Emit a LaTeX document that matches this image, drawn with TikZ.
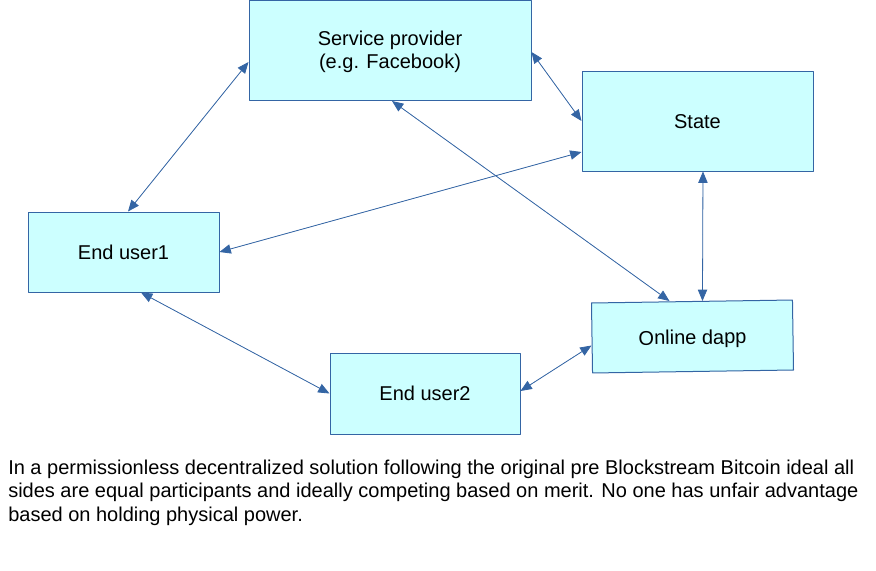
\documentclass[tikz,border=0pt]{standalone}
\usepackage{fontspec}
\setmainfont{Liberation Sans}
\usetikzlibrary{arrows.meta,calc}
\definecolor{boxfill}{HTML}{CCFFFF}
\definecolor{linkblue}{HTML}{3465A4}
\newcommand{\lowered}[2]{\raisebox{-#1}[\height][\depth]{#2}}
\begin{document}
\begin{tikzpicture}[x=0.75pt, y=-0.75pt, line join=round,
	party/.style={draw=linkblue, fill=boxfill, line width=0.75pt, inner sep=0pt, align=center, font=\fontsize{15}{17.25}\selectfont},
	link/.style={draw=linkblue, line width=0.6pt, {Triangle[length=8.5pt,width=7pt]}-{Triangle[length=8.5pt,width=7pt]}, fill=linkblue}]
	\useasboundingbox (0,0) rectangle (876,571);
	\node[party, minimum width=211.5pt, minimum height=75pt] (sp) at (390,50.5) {\lowered{1.5pt}{\begin{tabular}{@{}c@{}}Service provider\\(e.g. Facebook)\end{tabular}}};
	\node[party, minimum width=173.25pt, minimum height=75pt] (state) at (697.5,121) {\lowered{0.8pt}{State}};
	\node[party, minimum width=143.25pt, minimum height=60pt] (eu1) at (123.5,252) {End user1};
	\node[party, minimum width=142.5pt, minimum height=60.75pt] (eu2) at (425,393.5) {End user2};
	\node[party, minimum width=150.75pt, minimum height=52.5pt, rotate=0.85] (dapp) at (692.5,336.5) {\lowered{2pt}{Online dapp}};
	% links between all parties
	\draw[link] ($(sp.west)+(0,11.5)$) -- ($(eu1.north)+(4.5,0)$);
	\draw[link] ($(sp.east)+(0,1.5)$) -- (state.west);
	\draw[link] ($(state.west)+(0,31)$) -- (eu1.east);
	\draw[link] ($(sp.south)+(2,0)$) -- ($(dapp.north)+(-22.5,0)$);
	\draw[link] ($(state.south)+(5.5,0)$) -- ($(dapp.north)+(10.5,0)$);
	\draw[link] ($(eu1.south)+(17.5,0)$) -- (eu2.west);
	\draw[link] ($(eu2.east)+(0,-2.5)$) -- ($(dapp.west)+(0,7.5)$);
	\node[anchor=north west, inner sep=0pt, align=left, font=\fontsize{15}{17.4}\selectfont] (note) at (8,460) {In a permissionless decentralized solution following the original pre Blockstream Bitcoin ideal all\\sides are equal participants and ideally competing based on merit. No one has unfair advantage\\based on holding physical power.};
\end{tikzpicture}
\end{document}
